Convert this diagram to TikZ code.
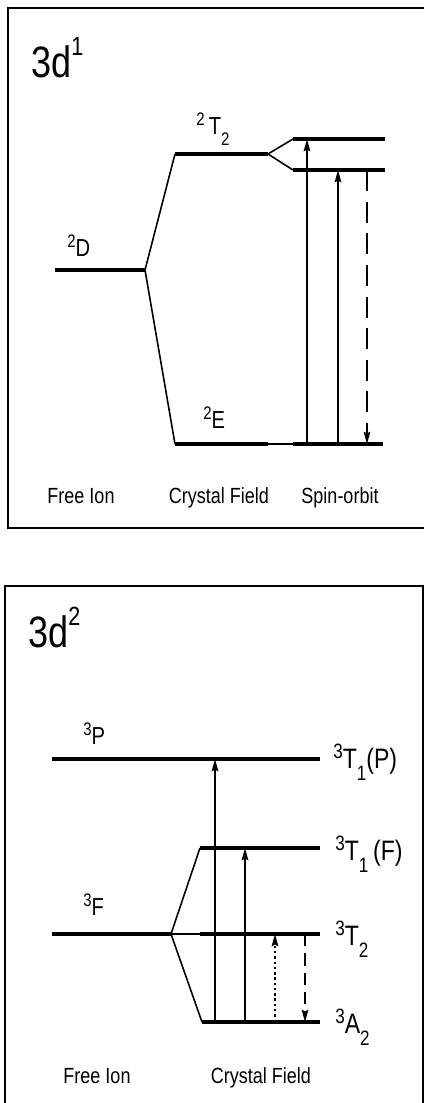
\documentclass[tikz,border=0pt]{standalone}
\usepackage{fontspec}
\setmainfont[FakeStretch=0.82]{Liberation Sans}
\usetikzlibrary{arrows.meta, positioning, calc}
\newcommand{\lvup}[1]{\raisebox{0.34em}{\scalebox{0.74}{#1}}}
\newcommand{\cfup}[1]{\raisebox{0.5em}{\scalebox{0.6}{#1}}}
\newcommand{\lvdn}[1]{\raisebox{-0.45em}{\scalebox{0.74}{#1}}}

\begin{document}
\begin{tikzpicture}[x=0.02cm, y=-0.02cm,
    level/.style={line width=1.8pt},
    link/.style={line width=0.9pt},
    frame/.style={line width=1pt},
    arrow/.style={-{Stealth[length=7pt, width=3.8pt, inset=1pt]}, line width=0.9pt},
    dasharrow/.style={arrow, dash pattern=on 12pt off 6pt},
    dasharrow2/.style={arrow, dash pattern=on 7pt off 4pt},
    dotarrow/.style={arrow, dash pattern=on 1.4pt off 1.6pt},
    lbl/.style={font=\fontsize{14}{16}\selectfont, inner sep=0pt, anchor=base west},
    lblbig/.style={lbl, font=\fontsize{16}{18}\selectfont},
    axis/.style={font=\fontsize{12.5}{14}\selectfont, inner sep=0pt, anchor=base},
    big/.style={font=\fontsize{25}{28}\selectfont, inner sep=0pt, anchor=base west}
]
    \useasboundingbox (0,0) rectangle (424,1103);

    % Panel 1: 3d1
    \draw[frame] (424,8) -- (8,8) -- (8,528) -- (424,528);
    \node[big] (conf1) at (31,77) {3d\cfup{1}};

    % Levels
    \coordinate (D-l) at (55,270);   \coordinate (D-r) at (145,270);
    \coordinate (T-l) at (175,154);  \coordinate (T-r) at (268,154);
    \coordinate (E-l) at (175,444);  \coordinate (E-r) at (268,444);
    \coordinate (Tu-l) at (293,139); \coordinate (Tu-r) at (385,139);
    \coordinate (Tl-l) at (293,170); \coordinate (Tl-r) at (385,170);
    \coordinate (Es-l) at (293,444); \coordinate (Es-r) at (383,444);
    \draw[level] (D-l) -- (D-r);
    \draw[level] (T-l) -- (T-r);
    \draw[level] (E-l) -- (E-r);
    \draw[level] (Tu-l) -- (Tu-r);
    \draw[level] (Tl-l) -- (Tl-r);
    \draw[level] (Es-l) -- (Es-r);

    % Correlation lines
    \draw[link] (D-r) -- (T-l);
    \draw[link] (D-r) -- (E-l);
    \draw[link] (T-r) -- (Tu-l);
    \draw[link] (T-r) -- (Tl-l);
    \draw[link] (E-r) -- (Es-l);

    % Transitions
    \coordinate (a1) at (307,444);
    \coordinate (a2) at (338,444);
    \coordinate (a3) at (367,170);
    \draw[arrow] (a1) -- (a1 |- Tu-l);
    \draw[arrow] (a2) -- (a2 |- Tl-l);
    \draw[dasharrow] (a3) -- (a3 |- Es-l);

    % Labels
    \node[lbl] (lD) at (67,256) {\lvup{2}D};
    \node[lbl] (lT) at (196,134) {\lvup{2}\,T\lvdn{2}};
    \node[lbl] (lE) at (203,428) {\lvup{2}E};
    \node[axis] (free1) at (81,503) {Free Ion};
    \node[axis] (cf1) at (219,503) {Crystal Field};
    \node[axis] (so1) at (340,503) {Spin-orbit};

    % Panel 2: 3d2
    \draw[frame] (5,1103) -- (5,586) -- (423,586) -- (423,1103);
    \node[big] (conf2) at (28,647) {3d\cfup{2}};

    % Levels
    \coordinate (P-l) at (52,759);   \coordinate (P-r) at (320,759);
    \coordinate (F-l) at (52,934);   \coordinate (F-r) at (171,934);
    \coordinate (TF-l) at (200,848); \coordinate (TF-r) at (320,848);
    \coordinate (T2-l) at (200,934); \coordinate (T2-r) at (320,934);
    \coordinate (A-l) at (202,1022); \coordinate (A-r) at (320,1022);
    \draw[level] (P-l) -- (P-r);
    \draw[level] (F-l) -- (F-r);
    \draw[level] (TF-l) -- (TF-r);
    \draw[level] (T2-l) -- (T2-r);
    \draw[level] (A-l) -- (A-r);

    % Correlation lines
    \draw[link] (F-r) -- (TF-l);
    \draw[link] (F-r) -- (T2-l);
    \draw[link] (F-r) -- (A-l);

    % Transitions
    \coordinate (b1) at (215,1022);
    \coordinate (b2) at (245,1022);
    \coordinate (b3) at (275,1022);
    \coordinate (b4) at (305,934);
    \draw[arrow] (b1) -- (b1 |- P-l);
    \draw[arrow] (b2) -- (b2 |- TF-l);
    \draw[dotarrow] (b3) -- (b3 |- T2-l);
    \draw[dasharrow2] (b4) -- (b4 |- A-l);

    % Labels
    \node[lbl] (lP) at (83,744) {\lvup{3}P};
    \node[lbl] (lF) at (83,915) {\lvup{3}F};
    \node[lblbig] (lTP) at (333,768) {\lvup{3}T\lvdn{1}(P)};
    \node[lblbig] (lTF) at (335,860) {\lvup{3}T\lvdn{1}\,(F)};
    \node[lblbig] (lT2) at (335,945) {\lvup{3}T\lvdn{2}};
    \node[lblbig] (lA) at (335,1033) {\lvup{3}A\lvdn{2}};
    \node[axis] (free2) at (97,1083) {Free Ion};
    \node[axis] (cf2) at (261,1083) {Crystal Field};
\end{tikzpicture}
\end{document}
